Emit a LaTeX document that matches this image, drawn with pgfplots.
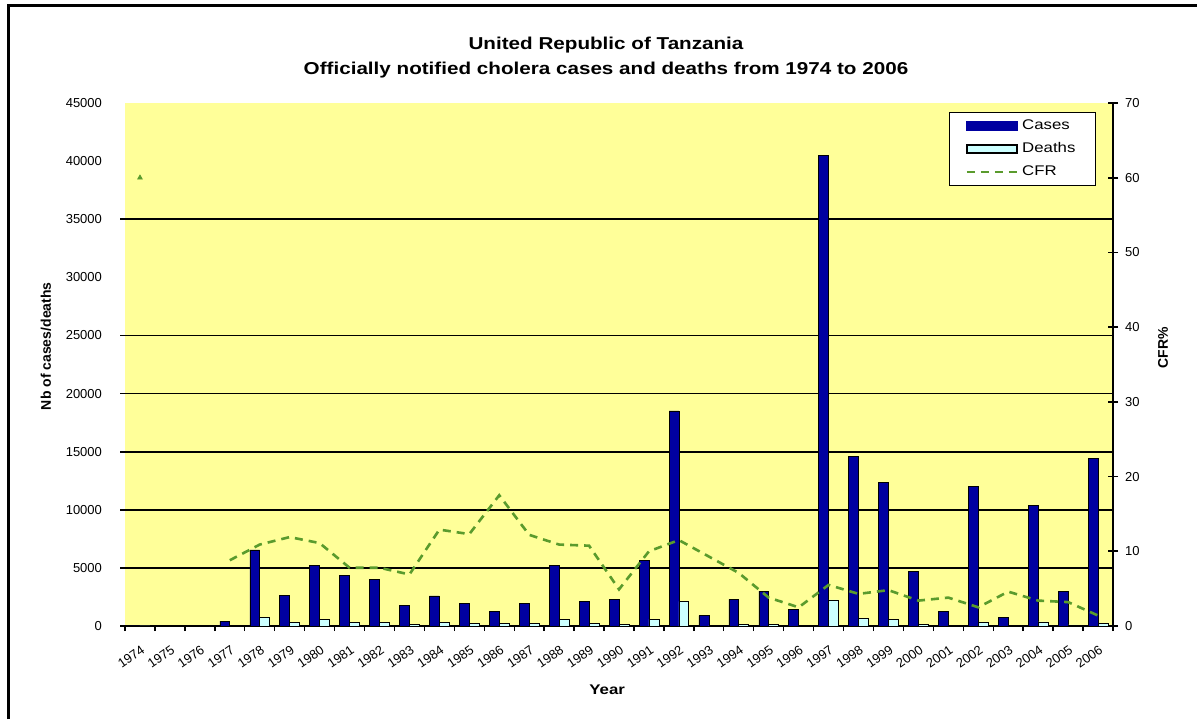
\documentclass[border=0pt]{standalone}
\usepackage{fontspec}
\setmainfont{Liberation Sans}
\newfontfamily\wide{Liberation Sans}[FakeStretch=1.2]
\usepackage{pgfplots}
\usepackage{pgfplotstable}
\pgfplotsset{compat=1.18}

\definecolor{bgyellow}{RGB}{255,255,153}
\definecolor{casesblue}{RGB}{0,0,160}
\definecolor{deathcyan}{RGB}{204,255,255}
\definecolor{cfrgreen}{RGB}{90,155,45}
\newcommand{\tickfont}{\fontsize{6.5}{7.5}\selectfont}
\newcommand{\legfont}{\wide\fontsize{7}{8}\selectfont}
\pgfplotsset{
  linelegend/.style={legend image code/.code={\draw[##1] (0pt,0pt) -- (25pt,0pt);}},
  caseslegend/.style={legend image code/.code={\draw[fill=casesblue, draw=casesblue] (0pt,-2.2pt) rectangle (25pt,2.2pt);}},
  deathslegend/.style={legend image code/.code={\draw[fill=deathcyan, draw=black, line width=0.7pt] (0pt,-2pt) rectangle (25pt,2pt);}},
}

\pgfplotstableread{
idx year cases deaths cfr
0 1974 5 3 60
1 1975 0 0 nan
2 1976 0 0 nan
3 1977 424 37 8.8
4 1978 6554 714 10.9
5 1979 2655 316 11.9
6 1980 5198 577 11.1
7 1981 4322 337 7.8
8 1982 4011 313 7.8
9 1983 1751 121 6.9
10 1984 2599 335 12.9
11 1985 1949 240 12.3
12 1986 1271 222 17.5
13 1987 1949 238 12.2
14 1988 5198 567 10.9
15 1989 2147 231 10.75
16 1990 2288 112 4.9
17 1991 5678 568 10.0
18 1992 18500 2128 11.5
19 1993 904 84 9.3
20 1994 2288 162 7.1
21 1995 2994 114 3.8
22 1996 1441 36 2.5
23 1997 40500 2250 5.5
24 1998 14570 627 4.3
25 1999 12330 592 4.8
26 2000 4689 159 3.4
27 2001 1271 48 3.8
28 2002 11990 300 2.5
29 2003 763 35 4.6
30 2004 10410 354 3.4
31 2005 2994 96 3.2
32 2006 14430 202 1.4
}\data

\begin{document}
\begin{tikzpicture}
\path[use as bounding box] (0pt,0pt) rectangle (598.5pt,359.5pt);
\draw[black, line width=1.5pt] (4pt,0pt) -- (4pt,356.5pt) -- (598.5pt,356.5pt);

\begin{axis}[
  at={(62.5pt,46.5pt)}, anchor=south west,
  scale only axis, width=494pt, height=261.5pt,
  xmin=-0.5, xmax=32.5, ymin=0, ymax=45000,
  axis background/.style={fill=bgyellow},
  axis x line*=bottom, axis y line*=left,
  y axis line style={draw=none},
  x axis line style={black, line width=0.9pt},
  xtick={0,...,32},
  xticklabels from table={\data}{year},
  xticklabel style={rotate=35, anchor=north east, font=\tickfont, inner sep=1pt, xshift=-4pt, yshift=-6.5pt},
  major tick length=0pt,
  extra x ticks={-0.5,0.5,...,32.5},
  extra x tick labels={},
  extra x tick style={major tick length=2.5pt, tick align=outside, tick style={black, line width=0.7pt}},
  ytick={0,5000,...,45000},
  scaled y ticks=false,
  yticklabel style={font=\tickfont, xshift=-8pt, /pgf/number format/.cd, set thousands separator={}, assume math mode=true},
  extra y ticks={0,5000,10000,15000,20000,25000,35000},
  extra y tick labels={},
  extra y tick style={major tick length=2.5pt, tick align=outside, ymajorgrids=true, major grid style={black, line width=0.9pt}, tick style={black, line width=0.9pt}},
  ylabel={Nb of cases/deaths},
  ylabel style={at={(axis description cs:-0.080,0.535)}, anchor=center, font=\bfseries\fontsize{7}{8}\selectfont},
  xlabel={Year},
  xlabel style={at={(axis description cs:0.488,-0.122)}, anchor=center, font=\wide\bfseries\fontsize{7}{8}\selectfont},
  clip=false,
]
\addplot[ybar, bar width=0.33, bar shift=-0.165, fill=casesblue, draw=black, line width=0.3pt] table[x=idx, y=cases] {\data};
\addplot[ybar, bar width=0.33, bar shift=0.165, fill=deathcyan, draw=black, line width=0.3pt] table[x=idx, y=deaths] {\data};
\end{axis}

\begin{axis}[
  at={(62.5pt,46.5pt)}, anchor=south west,
  scale only axis, width=494pt, height=261.5pt,
  xmin=-0.5, xmax=32.5, ymin=0, ymax=70,
  axis x line=none, axis y line*=right,
  y axis line style={black, line width=0.9pt},
  ytick={0,10,...,70},
  tick align=center, major tick length=5pt,
  ytick style={black, line width=0.8pt},
  yticklabel style={font=\tickfont, /pgf/number format/assume math mode=true},
  ylabel={CFR\%},
  ylabel style={at={(axis description cs:1.0506,0.532)}, anchor=center, font=\bfseries\fontsize{7}{8}\selectfont},
  unbounded coords=jump,
  legend style={at={(0.983,0.983)}, anchor=north east, draw=black, line width=0.8pt, fill=white, font=\legfont, inner xsep=8pt, inner ysep=1.5pt, row sep=1pt, /tikz/every even column/.append style={column sep=1pt}},
  legend cell align=left,
]
\addlegendimage{caseslegend}
\addlegendentry{Cases}
\addlegendimage{deathslegend}
\addlegendentry{Deaths}
\addplot[cfrgreen, line width=1.3pt, dash pattern=on 4pt off 3pt, linelegend] table[x=idx, y=cfr] {\data};
\addlegendentry{CFR}
\addplot[only marks, mark=triangle*, mark size=1.3pt, color=cfrgreen, forget plot] coordinates {(0,60)};
\end{axis}

\node[font=\wide\bfseries\fontsize{8.6}{10}\selectfont] at (303pt,337pt) {United Republic of Tanzania};
\node[font=\wide\bfseries\fontsize{8.6}{10}\selectfont] at (303pt,324.5pt) {Officially notified cholera cases and deaths from 1974 to 2006};
\end{tikzpicture}
\end{document}
